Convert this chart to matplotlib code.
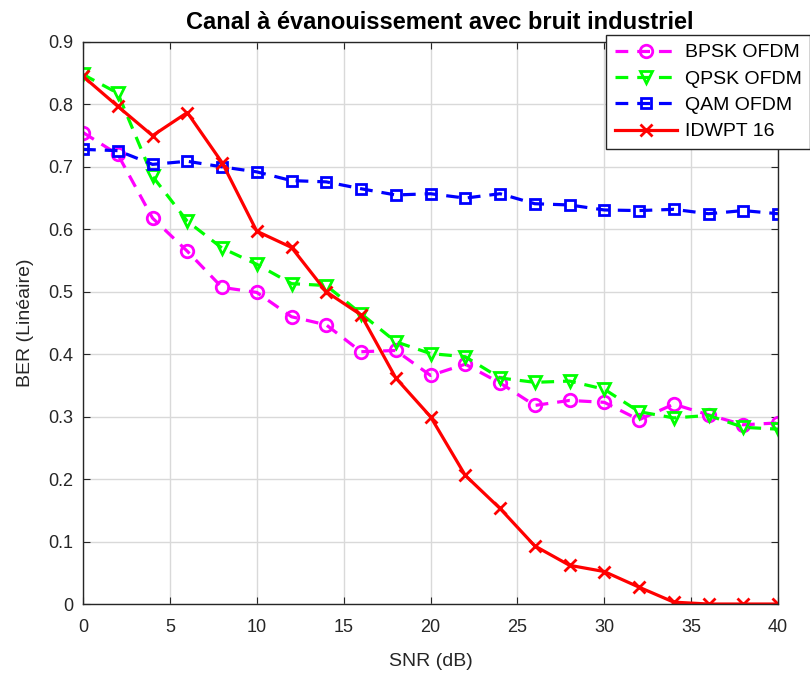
import matplotlib
matplotlib.use("Agg")
import matplotlib.pyplot as plt
import numpy as np

plt.rcParams['font.family'] = ['Liberation Sans', 'DejaVu Sans']

snr = list(range(0, 41, 2))
bpsk = [0.755, 0.720, 0.618, 0.565, 0.507, 0.499, 0.460, 0.447, 0.404, 0.406, 0.366,
        0.384, 0.354, 0.318, 0.326, 0.323, 0.295, 0.320, 0.303, 0.287, 0.290]
qpsk = [0.848, 0.818, 0.685, 0.613, 0.570, 0.544, 0.513, 0.510, 0.465, 0.420, 0.401,
        0.396, 0.362, 0.355, 0.357, 0.344, 0.308, 0.298, 0.302, 0.283, 0.280]
qam = [0.728, 0.726, 0.704, 0.709, 0.700, 0.692, 0.678, 0.676, 0.665, 0.655, 0.657,
       0.650, 0.657, 0.641, 0.639, 0.631, 0.630, 0.632, 0.625, 0.630, 0.625]
idwpt = [0.845, 0.797, 0.750, 0.787, 0.707, 0.597, 0.571, 0.500, 0.463, 0.362, 0.300,
         0.206, 0.153, 0.093, 0.062, 0.052, 0.027, 0.003, 0.000, 0.000, 0.000]

fig = plt.figure(figsize=(8.1, 6.77), dpi=100)
ax = fig.add_axes([0.1025, 0.1078, 0.858, 0.8302])

lw = 2.3
ax.plot(snr, bpsk, '--o', color='#ff00ff', lw=lw, ms=9, mfc='none', mew=2, label='BPSK OFDM', dashes=(4, 2.8))
ax.plot(snr, qpsk, '--v', color='#00ff00', lw=lw, ms=9, mfc='none', mew=2, label='QPSK OFDM', dashes=(4, 2.8))
ax.plot(snr, qam, '--s', color='#0000ff', lw=lw, ms=7, mfc='none', mew=2, label='QAM OFDM', dashes=(4, 2.8))
ax.plot(snr, idwpt, '-x', color='#ff0000', lw=lw, ms=9, mew=2, label='IDWPT 16')

ax.set_xlim(0, 40)
ax.set_ylim(0, 0.9)
ax.set_xticks(np.arange(0, 41, 5))
ax.set_yticks(np.arange(0, 0.91, 0.1))
ax.set_yticklabels(['0'] + [f'{v:.1f}' for v in np.arange(0.1, 0.91, 0.1)])
ax.grid(True, color='#d9d9d9', lw=1)
ax.set_axisbelow(True)
ax.tick_params(direction='in', labelsize=13, length=5, top=True, right=True, colors='#262626', labelcolor='#262626')
ax.tick_params(axis='x', pad=11)
ax.tick_params(axis='y', pad=7)
for s in ax.spines.values():
    s.set_color('#262626')
    s.set_linewidth(1)

ax.set_xlabel('SNR (dB)', fontsize=14, color='#262626', labelpad=12)
ax.set_ylabel('BER (Linéaire)', fontsize=14, color='#262626', labelpad=10)
ax.set_title('Canal à évanouissement avec bruit industriel', fontsize=17, fontweight='bold', pad=9, x=0.514)

leg = ax.legend(loc='upper left', bbox_to_anchor=(0.7525, 1.0125), fontsize=14,
                frameon=True, fancybox=False, edgecolor='#262626', framealpha=1,
                handlelength=3.2, borderpad=0.45, labelspacing=0.45, handletextpad=0.4,
                borderaxespad=0)
leg.get_frame().set_linewidth(1)

fig.savefig('out.png', dpi=100)
